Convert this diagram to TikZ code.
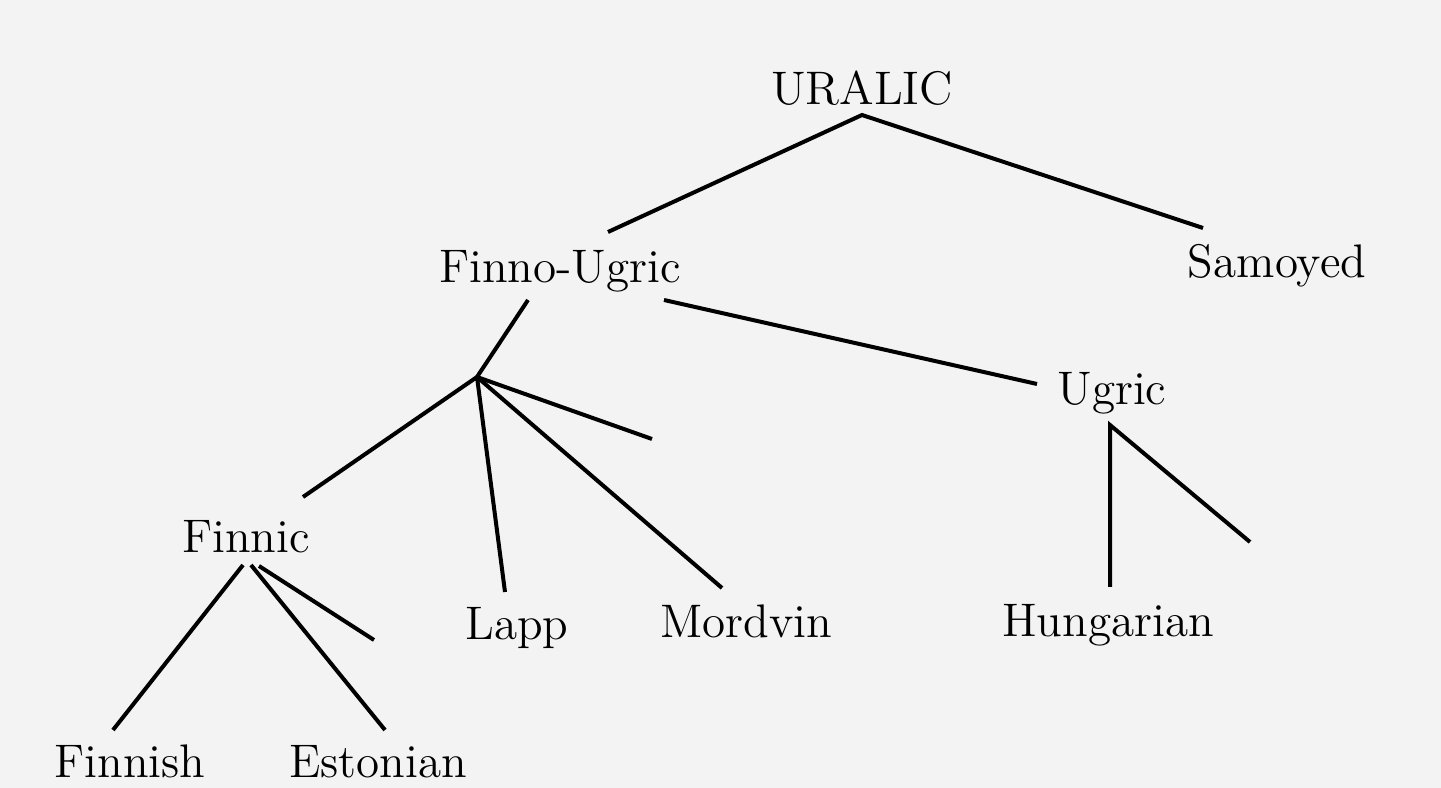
\documentclass[tikz,border=0pt]{standalone}
\usetikzlibrary{calc}
\definecolor{bg}{HTML}{F3F3F3}
\begin{document}
\begin{tikzpicture}[x=0.1mm,y=-0.1mm,
  lang/.style={anchor=base,inner sep=0pt,font=\fontsize{13.4}{16}\selectfont},
  branch/.style={line width=0.4mm,black}]
\fill[bg] (0,0) rectangle (1441,788);
\useasboundingbox (0,0) rectangle (1441,788);
% nodes
\node[lang] (uralic) at (862,105) {URALIC};
\node[lang] (finnougric) at (560,283) {Finno-Ugric};
\node[lang] (samoyed) at (1277,278) {Samoyed};
\node[lang] (ugric) at (1112,405) {Ugric};
\node[lang] (finnic) at (246,553) {Finnic};
\node[lang] (lapp) at (517,640) {Lapp};
\node[lang] (mordvin) at (746,638) {Mordvin};
\node[lang] (hungarian) at (1108,637) {Hungarian};
\node[lang] (finnish) at (130,778) {Finnish};
\node[lang] (estonian) at (378,778) {Estonian};
% branch points and free ends
\coordinate (fb) at (477,377);
\coordinate (fbstub) at (652,439);
\coordinate (ugstub) at (1250,542);
\coordinate (fnstub) at (374,640);
% connectors
\draw[branch] ($(finnougric.base)+(48,-51)$) -- ($(uralic.base)+(0,10)$) -- ($(samoyed.base)+(-74,-50)$);
\draw[branch] ($(finnougric.base)+(-32,17)$) -- (fb);
\draw[branch] ($(finnougric.base)+(104,17)$) -- ($(ugric.base)+(-75,-21)$);
\draw[branch] ($(finnic.base)+(57,-56)$) -- (fb) -- ($(lapp.base)+(-12,-48)$);
\draw[branch] (fb) -- ($(mordvin.base)+(-24,-50)$);
\draw[branch] (fb) -- (fbstub);
\draw[branch] ($(hungarian.base)+(2,-50)$) -- ($(ugric.base)+(-2,20)$) -- (ugstub);
\draw[branch] ($(finnic.base)+(-3,12)$) -- ($(finnish.base)+(-17,-48)$);
\draw[branch] ($(finnic.base)+(5,12)$) -- ($(estonian.base)+(7,-48)$);
\draw[branch] ($(finnic.base)+(13,13)$) -- (fnstub);
\end{tikzpicture}
\end{document}
